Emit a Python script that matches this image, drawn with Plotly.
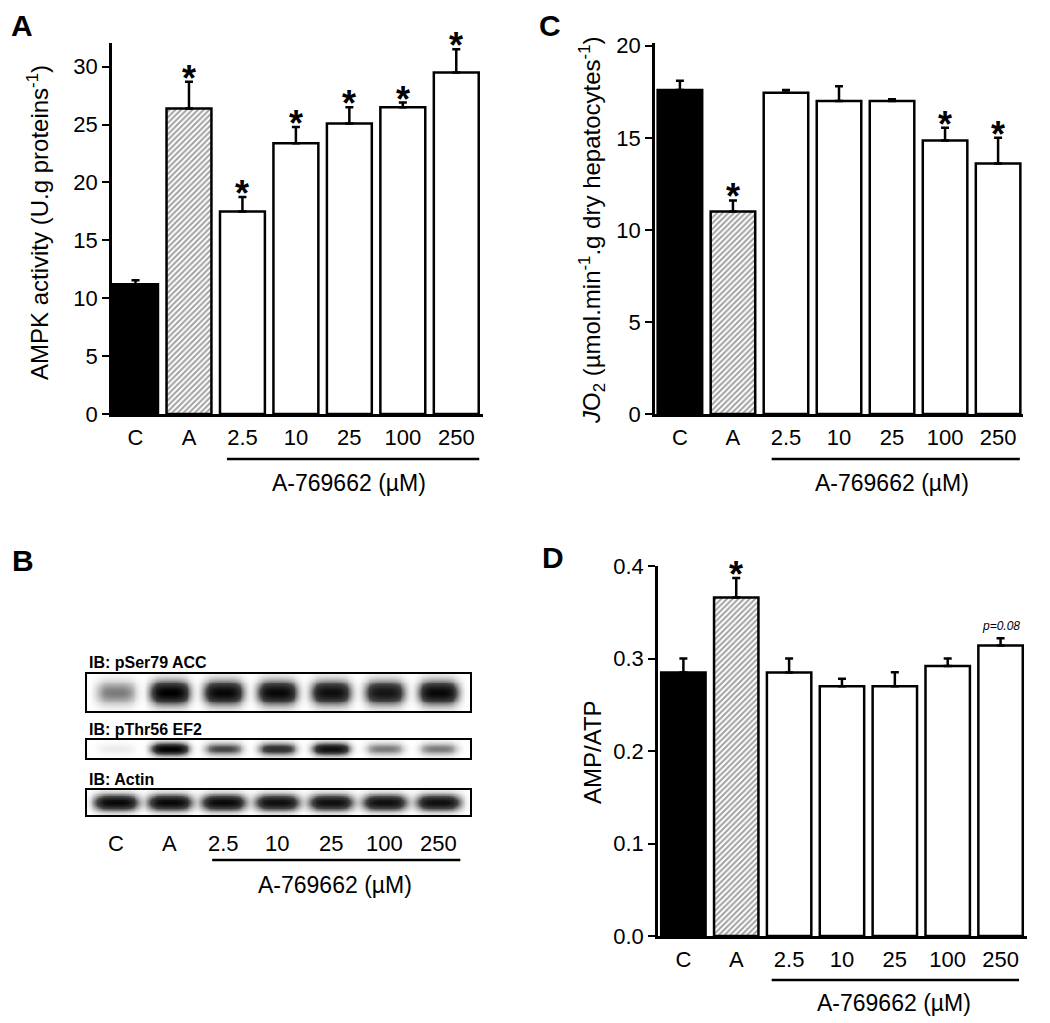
import numpy as np
import plotly.graph_objects as go

# ---------------- data ----------------
categories = ["C", "A", "2.5", "10", "25", "100", "250"]

ampk_mean = [11.2, 26.4, 17.5, 23.4, 25.1, 26.5, 29.5]
ampk_sem = [0.35, 2.3, 1.25, 1.4, 1.4, 0.4, 2.0]
ampk_sig = [False, True, True, True, True, True, True]

jo2_mean = [17.6, 11.0, 17.45, 17.0, 17.0, 14.85, 13.6]
jo2_sem = [0.5, 0.6, 0.15, 0.8, 0.1, 0.7, 1.4]
jo2_sig = [False, True, False, False, False, True, True]

ratio_mean = [0.285, 0.366, 0.285, 0.270, 0.270, 0.292, 0.314]
ratio_sem = [0.015, 0.021, 0.015, 0.008, 0.015, 0.008, 0.008]
ratio_sig = [False, True, False, False, False, False, False]
ratio_note = ["", "", "", "", "", "", "p=0.08"]

# western blot band intensities (0 = none, 1 = saturated), one per lane
blot_names = ["IB: pSer79 ACC", "IB: pThr56 EF2", "IB: Actin"]
blot_acc = [0.35, 1.0, 0.95, 0.95, 0.9, 0.85, 0.95]
blot_ef2 = [0.05, 1.0, 0.5, 0.65, 0.9, 0.35, 0.35]
blot_actin = [0.95, 0.95, 0.95, 0.9, 0.9, 0.9, 0.9]

fill_colors = ["black", "white", "white", "white", "white", "white", "white"]
fill_pattern = ["", "/", "", "", "", "", ""]

FONT = "Liberation Sans, Arial, sans-serif"
OFF = 8  # page body margin
W, H = 1050 - OFF, 1023 - OFF


def px_x(p):
    return (p - OFF) / W


def px_y(p):
    return 1 - (p - OFF) / H


fig = go.Figure()

xs = list(range(len(categories)))


def bar_panel(mean, sem, xa, ya):
    fig.add_trace(go.Bar(
        x=xs, y=mean, width=0.84, xaxis=xa, yaxis=ya,
        marker=dict(color=fill_colors,
                    line=dict(color="black", width=2.5),
                    pattern=dict(shape=fill_pattern, fgcolor="black",
                                 fillmode="overlay", size=4, solidity=0.5)),
        error_y=dict(type="data", symmetric=False, array=sem,
                     arrayminus=[0] * len(sem), color="black",
                     thickness=2.5, width=4),
        showlegend=False, hoverinfo="skip"))


bar_panel(ampk_mean, ampk_sem, "x", "y")
bar_panel(jo2_mean, jo2_sem, "x2", "y2")
bar_panel(ratio_mean, ratio_sem, "x3", "y3")

# ---------------- western blot heatmaps ----------------
lane_lo, lane_hi = -0.54, 6.59
gx = np.linspace(lane_lo, lane_hi, 420)
gy = np.linspace(0, 1, 40)
blots = [blot_acc, blot_ef2, blot_actin]
band_hw = [0.36, 0.34, 0.40]
band_hh = [0.30, 0.32, 0.30]
for k, inten in enumerate(blots):
    z = np.zeros((len(gy), len(gx)))
    for i, v in enumerate(inten):
        prof_x = np.exp(-((gx - i) / band_hw[k]) ** 4)
        prof_y = np.exp(-((gy - 0.5) / band_hh[k]) ** 2)
        z += v * np.outer(prof_y, prof_x)
    z = np.clip(z, 0, 1)
    ax = str(4 + k)
    fig.add_trace(go.Heatmap(
        x=gx, y=gy, z=z, zmin=0, zmax=1, zsmooth="best",
        colorscale=[[0, "white"], [0.5, "#444444"], [1, "black"]],
        showscale=False, hoverinfo="skip",
        xaxis="x" + ax, yaxis="y" + ax))

# ---------------- layout ----------------
tickfont = dict(family=FONT, size=22, color="black")
catfont = dict(family=FONT, size=22, color="black")


def yaxis_cfg(domain, rng, dtick, anchor, fmt=None):
    d = dict(domain=domain, range=rng, dtick=dtick, tick0=0, anchor=anchor,
             automargin=False,
             showline=True, linecolor="black", linewidth=2.5,
             ticks="outside", ticklen=7, tickwidth=2, tickcolor="black",
             tickfont=tickfont, showgrid=False, zeroline=False)
    if fmt:
        d["tickformat"] = fmt
    return d


def xaxis_cfg(domain, rng, anchor):
    return dict(domain=domain, range=rng, anchor=anchor, automargin=False,
                tickmode="array", tickvals=xs, ticktext=categories,
                showline=True, linecolor="black", linewidth=2.5,
                ticks="", tickfont=catfont, ticklabelstandoff=2,
                showgrid=False, zeroline=False)


layout = dict(
    width=W, height=H, margin=dict(l=0, r=0, t=0, b=0, pad=0, autoexpand=False),
    paper_bgcolor="white", plot_bgcolor="rgba(0,0,0,0)",
    bargap=0.16, showlegend=False,
    font=dict(family=FONT, color="black"),
)

# Panel A
layout["yaxis"] = yaxis_cfg([px_y(414), px_y(43)], [0, 32.05], 5, "x")
layout["xaxis"] = xaxis_cfg([px_x(112), px_x(483)], [-0.44, 6.5], "y")
# Panel C
layout["yaxis2"] = yaxis_cfg([px_y(414), px_y(43)], [0, 20.15], 5, "x2")
layout["xaxis2"] = xaxis_cfg([px_x(655), px_x(1023)], [-0.47, 6.47], "y2")
# Panel D
layout["yaxis3"] = yaxis_cfg([px_y(936), px_y(566)], [0, 0.4], 0.1, "x3", ".1f")
layout["xaxis3"] = xaxis_cfg([px_x(658), px_x(1027)], [-0.48, 6.5], "y3")

# Blot axes
blot_rows = [(674, 711), (740, 758), (790, 815)]
for k, (t, b) in enumerate(blot_rows):
    n = str(4 + k)
    common = dict(showline=True, mirror=True, linecolor="black", linewidth=2,
                  automargin=False,
                  showticklabels=False, ticks="", showgrid=False, zeroline=False)
    layout["xaxis" + n] = dict(domain=[px_x(87), px_x(470)], range=[lane_lo, lane_hi],
                               anchor="y" + n, **common)
    layout["yaxis" + n] = dict(domain=[px_y(b), px_y(t)], range=[0, 1],
                               anchor="x" + n, **common)

fig.update_layout(**layout)

ann = []
shapes = []


def text_ann(x, y, text, size, xref="paper", yref="paper", **kw):
    d = dict(x=x, y=y, xref=xref, yref=yref, text=text, showarrow=False,
             xanchor="center", yanchor="middle",
             font=dict(family=FONT, size=size, color="black"))
    d.update(kw)
    ann.append(d)


def star_annots(mean, sem, sig, xref, yref):
    for i, (m, s, g) in enumerate(zip(mean, sem, sig)):
        if g:
            text_ann(i, m + s, "<b>*</b>", 36, xref, yref,
                     yanchor="bottom", yshift=-19)


star_annots(ampk_mean, ampk_sem, ampk_sig, "x", "y")
star_annots(jo2_mean, jo2_sem, jo2_sig, "x2", "y2")
star_annots(ratio_mean, ratio_sem, ratio_sig, "x3", "y3")
for i, note in enumerate(ratio_note):
    if note:
        text_ann(i, ratio_mean[i] + ratio_sem[i], "<i>" + note + "</i>", 12,
                 "x3", "y3", yanchor="bottom", yshift=3)


# drug underline + label for bar panels
def drug_label(xref, yref, x0, x1, xc, y_line, y_text):
    shapes.append(dict(type="line", xref=xref, yref=yref + " domain",
                       x0=x0, x1=x1, y0=y_line, y1=y_line,
                       line=dict(color="black", width=2.5)))
    text_ann(xc, y_text, "A-769662 (µM)", 23, xref, yref + " domain")


drug_label("x", "y", 1.71, 6.43, 4.0, -45 / 371, -69 / 371)
drug_label("x2", "y2", 1.73, 6.41, 4.0, -45 / 371, -69 / 371)
drug_label("x3", "y3", 1.67, 6.35, 3.98, -44 / 370, -67 / 370)

# y-axis titles
text_ann(px_x(38), px_y(223), "AMPK activity (U.g proteins<sup>-1</sup>)", 24, textangle=-90)
text_ann(px_x(592), px_y(231),
         "<i>J</i>O<sub>2</sub> (µmol.min<sup>-1</sup>.g dry hepatocytes<sup>-1</sup>)",
         24, textangle=-90)
text_ann(px_x(592), px_y(752), "AMP/ATP", 24, textangle=-90)

# panel letters
text_ann(px_x(22), 1.0, "<b>A</b>", 30, yanchor="top", borderpad=0)
text_ann(px_x(550), 1.0, "<b>C</b>", 30, yanchor="top", borderpad=0)
text_ann(px_x(23), px_y(560), "<b>B</b>", 30)
text_ann(px_x(553), px_y(557), "<b>D</b>", 30)

# blot labels
label_mid = [662, 729, 779]
for name, ty in zip(blot_names, label_mid):
    text_ann(px_x(87), px_y(ty), "<b>" + name + "</b>", 16, xanchor="left")
for i, c in enumerate(categories):
    text_ann(i, px_y(843), c, 22, "x6", "paper")
shapes.append(dict(type="line", xref="x6", yref="paper", x0=1.79, x1=6.41,
                   y0=px_y(860), y1=px_y(860), line=dict(color="black", width=2.5)))
text_ann(4.08, px_y(885), "A-769662 (µM)", 23, "x6", "paper")

fig.update_layout(annotations=ann, shapes=shapes)
fig.write_html("out.html")
